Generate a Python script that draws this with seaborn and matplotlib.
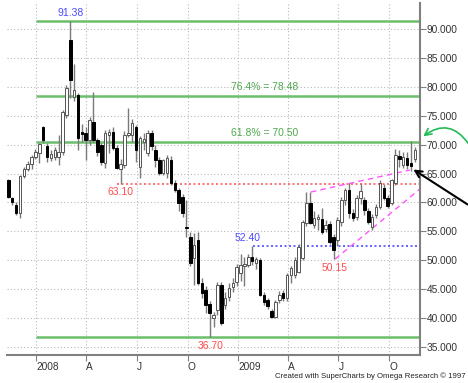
import numpy as np
import pandas as pd
import matplotlib
matplotlib.use("Agg")
import matplotlib.pyplot as plt
import matplotlib.dates as mdates
import seaborn as sns

# ---------------- data ----------------
start_date = "2007-11-12"
opens = [63.8, 60.8, 59.6, 58.2, 64.6, 65.8, 66.6, 67.9, 68.5, 73.0,
         69.8, 67.7, 67.9, 67.9, 68.7, 75.1, 88.1, 78.2, 78.6, 72.2,
         72.0, 70.8, 73.9, 70.8, 69.9, 66.8, 71.7, 72.2, 69.4, 65.8,
         66.5, 71.7, 71.7, 73.0, 66.1, 70.4, 68.5, 72.0, 69.1, 67.3,
         65.1, 65.1, 67.3, 63.4, 62.1, 60.9, 55.8, 54.0, 50.4, 53.5,
         46.1, 44.8, 42.4, 40.0, 41.4, 45.7, 42.2, 43.6, 45.4, 46.2,
         47.8, 49.0, 49.2, 50.5, 49.5, 50.0, 44.0, 43.1, 41.2, 40.2,
         43.1, 44.3, 43.5, 47.4, 47.5, 48.0, 50.4, 56.4, 59.9, 56.1,
         57.1, 57.1, 55.4, 56.3, 54.0, 53.5, 56.6, 60.4, 62.1, 58.2,
         57.5, 60.8, 60.5, 58.5, 55.7, 57.8, 59.2, 62.5, 60.8, 59.9,
         63.4, 68.0, 66.5, 67.7, 66.8, 67.5]
highs = [64.0, 61.0, 60.0, 64.8, 66.2, 67.2, 68.2, 69.2, 70.3, 73.2,
         70.3, 69.0, 69.6, 71.7, 76.0, 80.3, 91.38, 84.0, 79.0, 73.5,
         73.0, 74.8, 79.1, 71.2, 70.3, 72.5, 72.7, 73.0, 70.0, 67.5,
         72.3, 76.3, 74.5, 73.4, 71.5, 72.0, 72.5, 72.6, 70.0, 67.8,
         67.5, 68.2, 68.0, 63.8, 62.5, 61.5, 60.4, 54.8, 54.7, 54.8,
         47.0, 45.5, 43.0, 41.0, 46.3, 46.3, 44.5, 46.0, 47.0, 49.3,
         51.0, 50.5, 51.0, 52.4, 50.5, 50.3, 44.5, 43.5, 41.6, 43.2,
         44.6, 44.8, 47.8, 49.0, 50.5, 52.8, 57.0, 61.8, 61.8, 58.5,
         58.0, 59.0, 57.0, 56.8, 54.5, 57.5, 61.0, 62.5, 63.4, 58.8,
         61.2, 63.3, 61.0, 59.0, 58.0, 59.8, 63.8, 63.2, 61.3, 64.0,
         69.2, 69.1, 68.8, 68.8, 70.7, 69.5]
lows = [60.7, 59.5, 57.9, 57.3, 64.3, 65.5, 65.8, 67.5, 66.8, 70.3,
        67.0, 67.2, 67.4, 66.5, 68.2, 74.6, 78.0, 77.5, 69.0, 70.5,
        67.3, 70.0, 70.5, 68.0, 66.5, 66.0, 68.5, 69.0, 65.8, 63.1,
        66.0, 71.4, 70.5, 67.0, 64.2, 69.0, 68.0, 69.0, 66.1, 64.8,
        64.8, 64.3, 63.0, 61.8, 58.5, 57.5, 54.0, 49.0, 45.7, 45.7,
        43.5, 40.9, 36.7, 38.5, 40.6, 38.8, 41.5, 43.0, 44.5, 45.5,
        46.4, 45.5, 48.8, 49.2, 48.5, 43.8, 42.3, 41.6, 40.0, 40.0,
        42.6, 43.0, 43.0, 46.0, 47.0, 47.8, 50.0, 56.0, 56.2, 55.5,
        55.2, 54.5, 54.8, 52.8, 50.15, 52.5, 56.0, 59.5, 57.3, 56.8,
        57.0, 59.8, 57.8, 56.2, 55.3, 57.3, 58.8, 60.5, 59.0, 59.5,
        63.0, 66.1, 66.0, 65.8, 65.5, 67.0]
closes = [61.0, 60.1, 58.2, 64.6, 65.8, 66.6, 67.9, 68.7, 70.1, 70.8,
          67.9, 68.4, 69.1, 68.7, 75.6, 79.8, 81.2, 79.4, 71.1, 71.8,
          70.8, 74.3, 70.8, 68.7, 67.0, 72.0, 72.2, 69.4, 66.0, 66.6,
          71.7, 72.0, 73.7, 69.1, 71.1, 70.9, 72.0, 69.8, 67.3, 65.1,
          67.3, 67.7, 63.4, 62.1, 59.9, 58.2, 55.5, 49.5, 52.6, 46.1,
          44.3, 42.3, 40.9, 40.6, 45.7, 39.1, 43.5, 45.2, 46.1, 48.8,
          49.2, 49.4, 50.5, 49.8, 50.2, 44.0, 42.8, 42.1, 40.2, 42.8,
          44.0, 43.5, 47.4, 48.7, 50.0, 52.3, 56.6, 59.9, 56.4, 57.3,
          57.5, 54.9, 56.1, 53.1, 51.8, 57.0, 60.4, 62.1, 58.2, 57.3,
          60.8, 62.0, 58.7, 56.6, 57.5, 59.2, 63.4, 60.8, 59.4, 63.9,
          68.2, 67.5, 67.8, 66.5, 66.3, 69.1]

fib_levels = [91.38, 78.48, 70.50, 36.70]
fib_labels = ["91.38", "76.4% = 78.48", "61.8% = 70.50", "36.70"]
fib_start = "2008-01-01"
support_level = 63.10
support_start = "2008-05-26"
resist_level = 52.40
resist_start = "2009-01-28"
low_label = 50.15
upper_trend_dates = ["2009-05-12", "2009-11-07"]
upper_trend_vals = [61.8, 65.6]
lower_trend_dates = ["2009-06-25", "2009-11-25"]
lower_trend_vals = [50.2, 62.3]
y_ticks = [35, 40, 45, 50, 55, 60, 65, 70, 75, 80, 85, 90]
x_tick_dates = ["2008-01-01", "2008-04-01", "2008-07-01", "2008-10-01",
                "2009-01-01", "2009-04-01", "2009-07-01", "2009-10-01"]
x_tick_labels = ["2008", "A", "J", "O", "2009", "A", "J", "O"]

# ---------------- figure ----------------
sns.set_theme(style="white")
plt.rcParams['font.family'] = ['Liberation Sans', 'DejaVu Sans']

W, H = 468, 383
fig = plt.figure(figsize=(W / 100, H / 100), dpi=100)
ax = fig.add_axes([7 / W, 28 / H, 413 / W, 352 / H])

dates = pd.date_range(start_date, periods=len(opens), freq="7D")
df = pd.DataFrame({"date": dates, "open": opens, "high": highs,
                   "low": lows, "close": closes})
xd = mdates.date2num(df["date"])

jan1 = mdates.date2num(pd.Timestamp("2008-01-01"))
ax.set_xlim(jan1 - 52.4, jan1 + 694.4)
ax.set_ylim(33.6, 94.5)
x_right = jan1 + 694.4

# grid
ax.set_yticks(y_ticks)
ax.set_yticklabels([f"{v:.3f}" for v in y_ticks])
xt = mdates.date2num(pd.to_datetime(x_tick_dates))
ax.set_xticks(xt)
ax.set_xticklabels(x_tick_labels, ha="left")
ax.grid(True, linestyle=(0, (1, 2)), color="#b8b8b8", linewidth=0.8, zorder=0)

# fib lines
gx0 = mdates.date2num(pd.Timestamp(fib_start))
for lv in fib_levels:
    ax.hlines(lv, gx0, x_right, color="#6cbf6c", linewidth=1.8, zorder=1)

# support / resistance dotted
ax.hlines(support_level, mdates.date2num(pd.Timestamp(support_start)), x_right,
          color="#ff5a5a", linestyle=(0, (1.2, 1.5)), linewidth=1.2, zorder=1)
ax.hlines(resist_level, mdates.date2num(pd.Timestamp(resist_start)), x_right,
          color="#4b4bff", linestyle=(0, (1.2, 1.5)), linewidth=1.2, zorder=1)

# trend lines
sns.lineplot(x=mdates.date2num(pd.to_datetime(upper_trend_dates)), y=upper_trend_vals,
             ax=ax, color="#ff55ff", linestyle=(0, (4, 3)), linewidth=1.0, zorder=2)
sns.lineplot(x=mdates.date2num(pd.to_datetime(lower_trend_dates)), y=lower_trend_vals,
             ax=ax, color="#ff55ff", linestyle=(0, (4, 3)), linewidth=1.0, zorder=2)

# candles
ax.vlines(xd, df["low"], df["high"], color="#7a7a7a", linewidth=1.0, zorder=3)
body_bottom = np.minimum(df["open"], df["close"])
body_h = np.maximum(np.abs(df["close"] - df["open"]), 0.2)
up = df["close"] >= df["open"]
ax.bar(xd[up], body_h[up], bottom=body_bottom[up], width=4.6,
       color="white", edgecolor="#555555", linewidth=0.7, zorder=4)
ax.bar(xd[~up], body_h[~up], bottom=body_bottom[~up], width=4.6,
       color="black", edgecolor="black", linewidth=0.7, zorder=4)

# labels
lab_fs = 7.5
d = lambda s: mdates.date2num(pd.Timestamp(s))
ax.text(xd[16], 91.38 + 0.5, "91.38", color="#4b4bff", ha="center", va="bottom", fontsize=lab_fs)
ax.text(d("2009-02-17"), 78.48 + 0.6, "76.4% = 78.48", color="#4ea84e", ha="center", va="bottom", fontsize=lab_fs)
ax.text(d("2009-02-17"), 70.50 + 0.6, "61.8% = 70.50", color="#4ea84e", ha="center", va="bottom", fontsize=lab_fs)
ax.text(d("2008-06-02"), support_level - 0.5, "63.10", color="#ff4d4d", ha="center", va="top", fontsize=lab_fs)
ax.text(d("2009-01-18"), resist_level + 0.5, "52.40", color="#4b4bff", ha="center", va="bottom", fontsize=lab_fs)
ax.text(d("2009-06-24"), low_label - 0.6, "50.15", color="#ff4d4d", ha="center", va="top", fontsize=lab_fs)
ax.text(d("2008-11-11"), 36.70 - 0.6, "36.70", color="#ff4d4d", ha="center", va="top", fontsize=lab_fs)

# axes styling
for s in ["left", "top"]:
    ax.spines[s].set_visible(False)
for s in ["right", "bottom"]:
    ax.spines[s].set_color("#808080")
    ax.spines[s].set_linewidth(1.5)
ax.yaxis.tick_right()
ax.tick_params(axis="y", which="both", right=True, left=False, length=4, width=0.8,
               color="#808080", labelsize=7.3, pad=1, labelcolor="#333333")
ax.tick_params(axis="x", which="both", bottom=True, length=4, width=0.8,
               color="#808080", labelsize=7.3, pad=1, labelcolor="#333333")
ax.set_xlabel("")
ax.set_ylabel("")
if ax.get_legend() is not None:
    ax.get_legend().remove()

# arrows (outside axes)
fx = lambda px: px / W
fy = lambda py: 1 - py / H
ax.annotate("", xy=(fx(421), fy(138)), xycoords="figure fraction",
            xytext=(fx(470), fy(146)), textcoords="figure fraction",
            arrowprops=dict(arrowstyle="->", color="#22bb55", lw=1.2,
                            connectionstyle="arc3,rad=0.55"), annotation_clip=False)
ax.annotate("", xy=(fx(411), fy(168)), xycoords="figure fraction",
            xytext=(fx(470), fy(206)), textcoords="figure fraction",
            arrowprops=dict(arrowstyle="->", color="black", lw=1.5),
            annotation_clip=False)

fig.text(466 / W, 1 - 376 / H, "Created with SuperCharts by Omega Research \u00a9 1997",
         ha="right", va="center", fontsize=5.6, color="#222222")

fig.savefig("out.png", dpi=100, facecolor="white")
